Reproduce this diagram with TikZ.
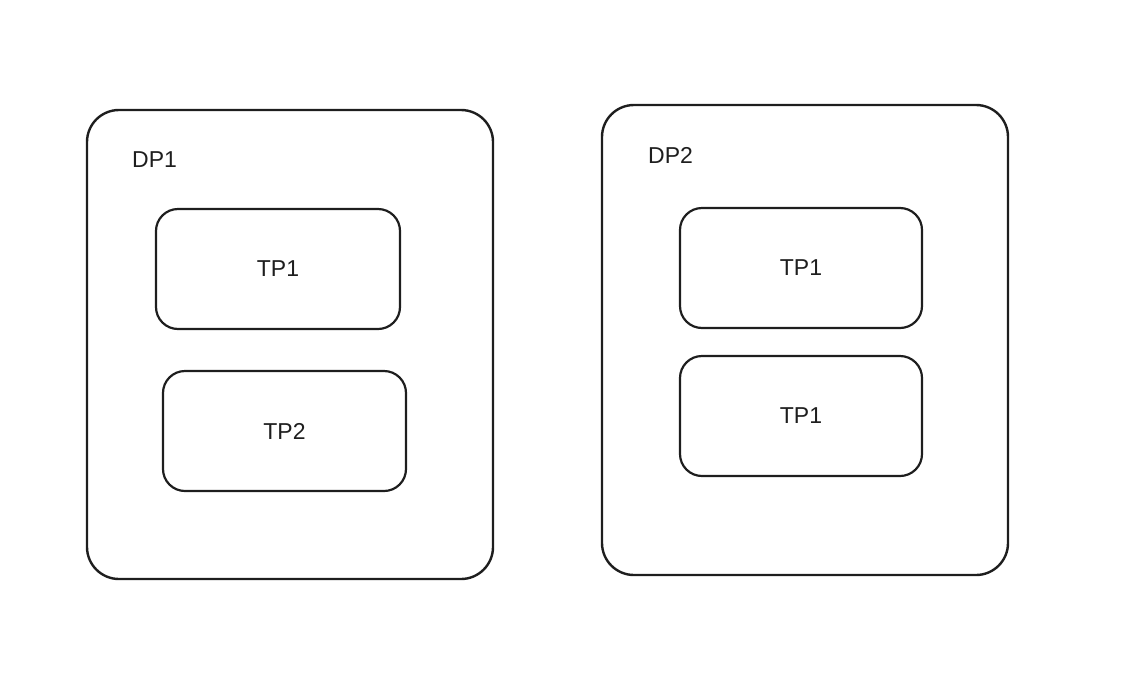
\documentclass[tikz,border=0pt]{standalone}
\usepackage{fontspec}
\setmainfont{Liberation Sans}
\definecolor{ink}{HTML}{1E1E1E}
\begin{document}
\begin{tikzpicture}[x=1pt,y=-1pt,
  outerbox/.style={draw=ink,line width=2.4pt,rounded corners=32pt},
  innerbox/.style={draw=ink,line width=2.2pt,rounded corners=22pt},
  lbl/.style={text=ink,font=\fontsize{23}{27}\selectfont,inner sep=0pt}]
\useasboundingbox (0,0) rectangle (1130,694);
\path[outerbox] (87,110) rectangle (493,579);
\path[outerbox] (602,105) rectangle (1008,575);
\node[lbl,anchor=west] (dp1) at (132,160) {DP1};
\node[lbl,anchor=west] (dp2) at (648,155) {DP2};
\node[innerbox,minimum width=244pt,minimum height=120pt] (a1) at (278,269) {};
\node[lbl] at (a1.center) {TP1};
\node[innerbox,minimum width=243pt,minimum height=120pt] (a2) at (284.5,431) {};
\node[lbl] at (a2.center) {TP2};
\node[innerbox,minimum width=242pt,minimum height=120pt] (b1) at (801,268) {};
\node[lbl] at (b1.center) {TP1};
\node[innerbox,minimum width=242pt,minimum height=120pt] (b2) at (801,416) {};
\node[lbl] at (b2.center) {TP1};
\end{tikzpicture}
\end{document}
